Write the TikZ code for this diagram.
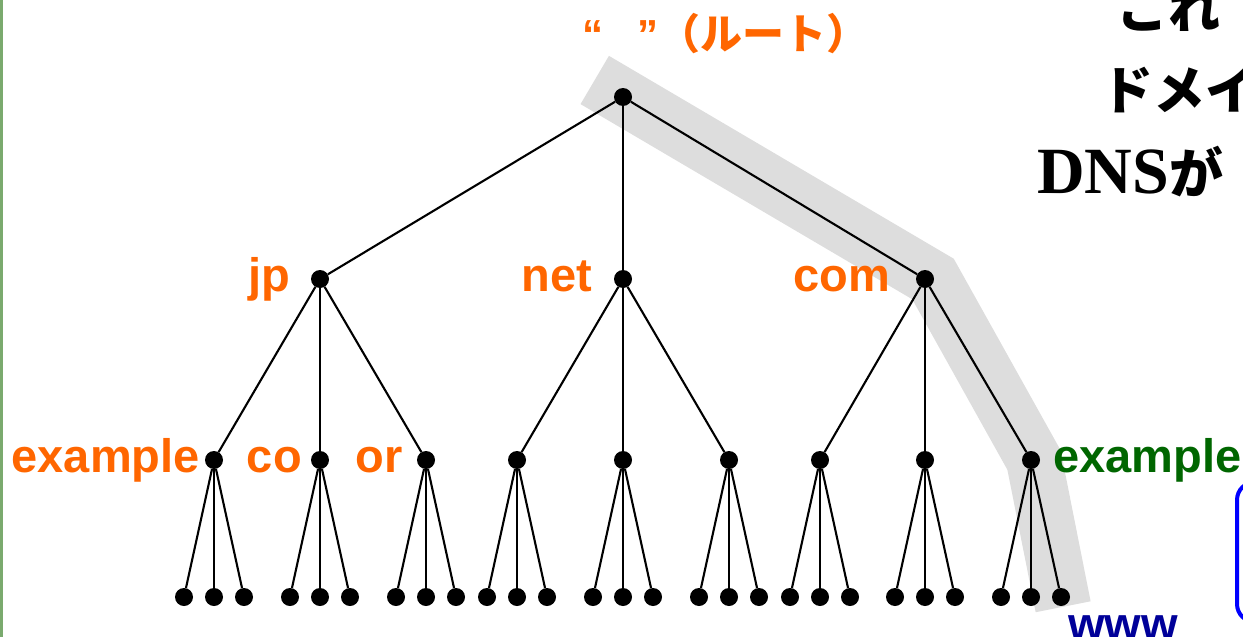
\documentclass[tikz,border=0pt]{standalone}
\usepackage{fontspec}
\setmainfont{Liberation Sans}
\newfontfamily\jpfont{Noto Sans CJK JP}
\newfontfamily\timesfont{Liberation Serif}
\usetikzlibrary{calc,positioning,backgrounds}
\definecolor{dnsorange}{HTML}{FF6600}
\definecolor{dnsgreen}{HTML}{006600}
\definecolor{dnsnavy}{HTML}{000099}
\definecolor{pathgray}{HTML}{DDDDDD}
\definecolor{slidegreen}{RGB}{122,170,110}

\begin{document}
\begin{tikzpicture}[x=1pt, y=-1pt,
    every node/.style={font=\fontsize{47}{56}\selectfont\bfseries},
    dot/.style={circle, fill=black, inner sep=0pt, minimum size=18pt},
    edge/.style={line width=2.1pt},
    lbl/.style={text=dnsorange, anchor=base east, inner sep=0pt},
    bigtext/.style={anchor=base west, inner sep=0pt, font=\fontsize{52}{60}\selectfont\bfseries}]
    \useasboundingbox (0,0) rectangle (1243,637);
    \clip (0,0) rectangle (1243,637);
    \draw[slidegreen, line width=3pt] (1,0) -- (1,637);

    % tree
    \node[dot] (root) at (623,97) {};
    \node[dot] (jp) at (320,279) {};
    \node[dot] (net) at (623,279) {};
    \node[dot] (com) at (925,279) {};
    \node[dot] (jpex) at (214,460) {};
    \node[dot] (jpco) at (320,460) {};
    \node[dot] (jpor) at (426,460) {};
    \node[dot] (net1) at (517,460) {};
    \node[dot] (net2) at (623,460) {};
    \node[dot] (net3) at (729,460) {};
    \node[dot] (com1) at (820,460) {};
    \node[dot] (com2) at (925,460) {};
    \node[dot] (comex) at (1031,460) {};
    \foreach \p in {jpex,jpco,jpor,net1,net2,net3,com1,com2,comex}{
        \foreach \d/\s in {-30/a,0/b,30/c}{
            \node[dot] (\p\s) at ($(\p)+(\d,137)$) {};
            \draw[edge] (\p) -- (\p\s);
        }
    }
    \draw[edge] (root) -- (jp);
    \draw[edge] (root) -- (net);
    \draw[edge] (root) -- (com);
    \draw[edge] (jp) -- (jpex);
    \draw[edge] (jp) -- (jpco);
    \draw[edge] (jp) -- (jpor);
    \draw[edge] (net) -- (net1);
    \draw[edge] (net) -- (net2);
    \draw[edge] (net) -- (net3);
    \draw[edge] (com) -- (com1);
    \draw[edge] (com) -- (com2);
    \draw[edge] (com) -- (comex);

    % highlighted path www.example.com
    \begin{scope}[on background layer]
        \draw[pathgray, line width=56pt] ($(root)!-33pt!(com)$) -- ($(com)+(8,0)$)
            -- ($(comex)+(3,0)$) -- ($(comexc)!-10pt!(comex)$);
    \end{scope}

    % labels
    \node[anchor=base west, inner sep=0pt, text=dnsorange,
        font=\fontsize{42}{50}\selectfont\bfseries] (rootlbl) at (582,49)
        {“\hspace{34pt}”\jpfont（ルート）};
    \node[lbl] (jplbl) at ($(jp)+(-30,12)$) {jp};
    \node[lbl] (netlbl) at ($(net)+(-31,12)$) {net};
    \node[lbl] (comlbl) at ($(com)+(-35,12)$) {com};
    \node[lbl] (jpexlbl) at ($(jpex)+(-14,12)$) {example};
    \node[lbl] (jpcolbl) at ($(jpco)+(-18,12)$) {co};
    \node[lbl] (jporlbl) at ($(jpor)+(-23,12)$) {or};
    \node[lbl, anchor=base west, text=dnsgreen] (comexlbl) at ($(comex)+(22,12)$) {example};
    \node[lbl, anchor=base west, text=dnsnavy] (wwwlbl) at ($(comexc)+(7,43)$) {www};

    % slide text cut at the right edge
    \node[bigtext] (line1) at (1116,28) {\jpfont これ};
    \node[bigtext] (line2) at (1101,109) {\jpfont ドメイ};
    \node[bigtext, font=\fontsize{66}{72}\selectfont\bfseries] (line3) at (1037,193)
        {\timesfont DNS\jpfont\fontsize{54}{62}\selectfont が};
    \draw[blue, line width=4pt, rounded corners=18pt] (1237,482) rectangle (1320,622);
\end{tikzpicture}
\end{document}
